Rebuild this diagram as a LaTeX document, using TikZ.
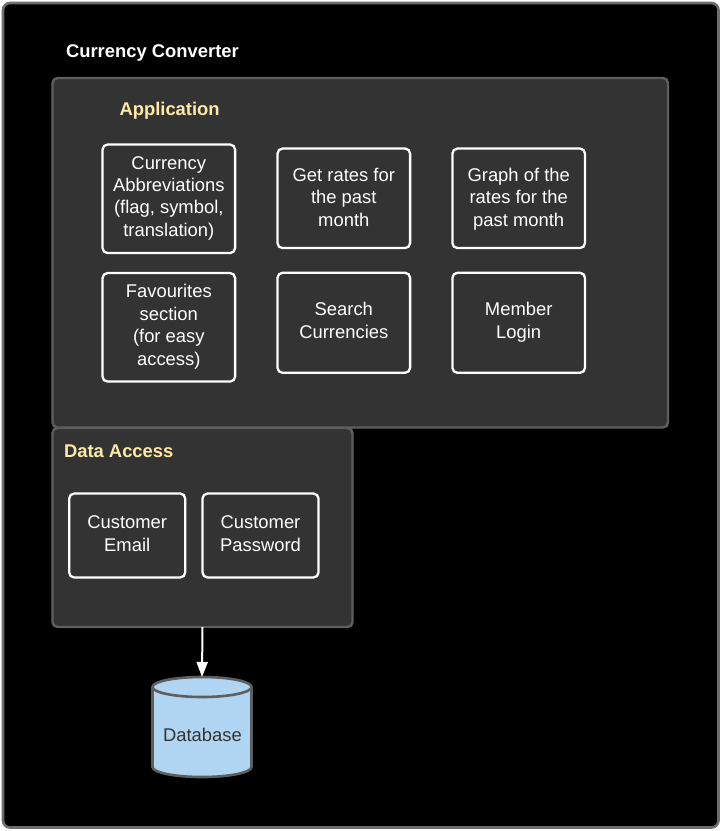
\documentclass[tikz,border=0pt]{standalone}
\usepackage{fontspec}
\setmainfont{Liberation Sans}
\usetikzlibrary{arrows.meta}
\definecolor{panelfill}{HTML}{333333}
\definecolor{panelline}{HTML}{5E5E5E}
\definecolor{outerline}{HTML}{6E6E6E}
\definecolor{titleyellow}{HTML}{FFE9A6}
\definecolor{dbfill}{HTML}{B0D5F2}
\definecolor{dbline}{HTML}{5E5E5E}
\definecolor{dbtext}{HTML}{333333}
\tikzset{
  x=1pt,y=-1pt,
  every node/.style={font=\fontsize{18.4}{22.4}\selectfont,inner sep=0pt,outer sep=0pt},
  panel/.style={draw=panelline,fill=panelfill,line width=2.4pt,rounded corners=5pt},
  itembox/.style={draw=white,fill=panelfill,line width=2.3pt,rounded corners=5pt,text=white},
  headtitle/.style={font=\fontsize{18.4}{22.4}\selectfont\bfseries,anchor=base west},
  flow/.style={draw=white,line width=2pt,-{Triangle[fill=white,length=15pt,width=11pt]}},
}
% #1 = height of the last baseline over the box centre, #2 = lines
\newcommand{\boxlines}[2]{\raisebox{#1}[0pt][0pt]{\parbox[b]{115pt}{\centering #2}}}
\begin{document}
\begin{tikzpicture}
\useasboundingbox (0,0) rectangle (722,831);
\draw[draw=outerline,fill=black,line width=2.6pt,rounded corners=7pt] (3,3) rectangle (718.5,827.5);
\node[headtitle,text=white] (maintitle) at (66,57) {Currency Converter};
% panels
\node[panel,anchor=north west,minimum width=615.5pt,minimum height=349.5pt] (app) at (52.5,78) {};
\node[panel,anchor=north west,minimum width=300pt,minimum height=199pt] (data) at (52.5,428) {};
\node[headtitle,text=titleyellow] (apptitle) at (119.5,115) {Application};
\node[headtitle,text=titleyellow] (datatitle) at (64,457) {Data Access};
% item boxes
\node[itembox,minimum width=132.6pt,minimum height=108.5pt] (abbr) at (168.8,198.8) {\boxlines{-37.5pt}{Currency\\Abbreviations\\(flag, symbol,\\translation)}};
\node[itembox,minimum width=132.6pt,minimum height=99.5pt] (rates) at (343.8,198.3) {\boxlines{-27.7pt}{Get rates for\\the past\\month}};
\node[itembox,minimum width=132.6pt,minimum height=99.5pt] (graph) at (518.7,198.3) {\boxlines{-27.7pt}{Graph of the\\rates for the\\past month}};
\node[itembox,minimum width=132.6pt,minimum height=108.5pt] (fav) at (168.8,327.3) {\boxlines{-37.7pt}{Favourites\\section\\(for easy\\access)}};
\node[itembox,minimum width=132.6pt,minimum height=100pt] (search) at (343.8,322.8) {\boxlines{-15.4pt}{Search\\Currencies}};
\node[itembox,minimum width=132.6pt,minimum height=100pt] (member) at (518.7,322.8) {\boxlines{-15.4pt}{Member\\Login}};
\node[itembox,minimum width=116pt,minimum height=84pt] (email) at (127.2,535.5) {\boxlines{-15.8pt}{Customer\\Email}};
\node[itembox,minimum width=116pt,minimum height=84pt] (password) at (260.5,535.5) {\boxlines{-15.8pt}{Customer\\Password}};
% database
\draw[draw=dbline,fill=dbfill,line width=2.6pt]
  (152.5,687) arc[start angle=180,end angle=0,x radius=49.5pt,y radius=10pt]
  -- (251.5,767) arc[start angle=0,end angle=-180,x radius=49.5pt,y radius=10pt] -- cycle;
\draw[draw=dbline,line width=2.6pt] (152.5,687) arc[start angle=180,end angle=360,x radius=49.5pt,y radius=10pt];
\node[minimum width=100pt,minimum height=100pt] (db) at (202,727) {};
\node[text=dbtext] (dblabel) at (202.5,734.5) {Database};
\draw[flow] (data.south) -- (db.north);
\end{tikzpicture}
\end{document}
